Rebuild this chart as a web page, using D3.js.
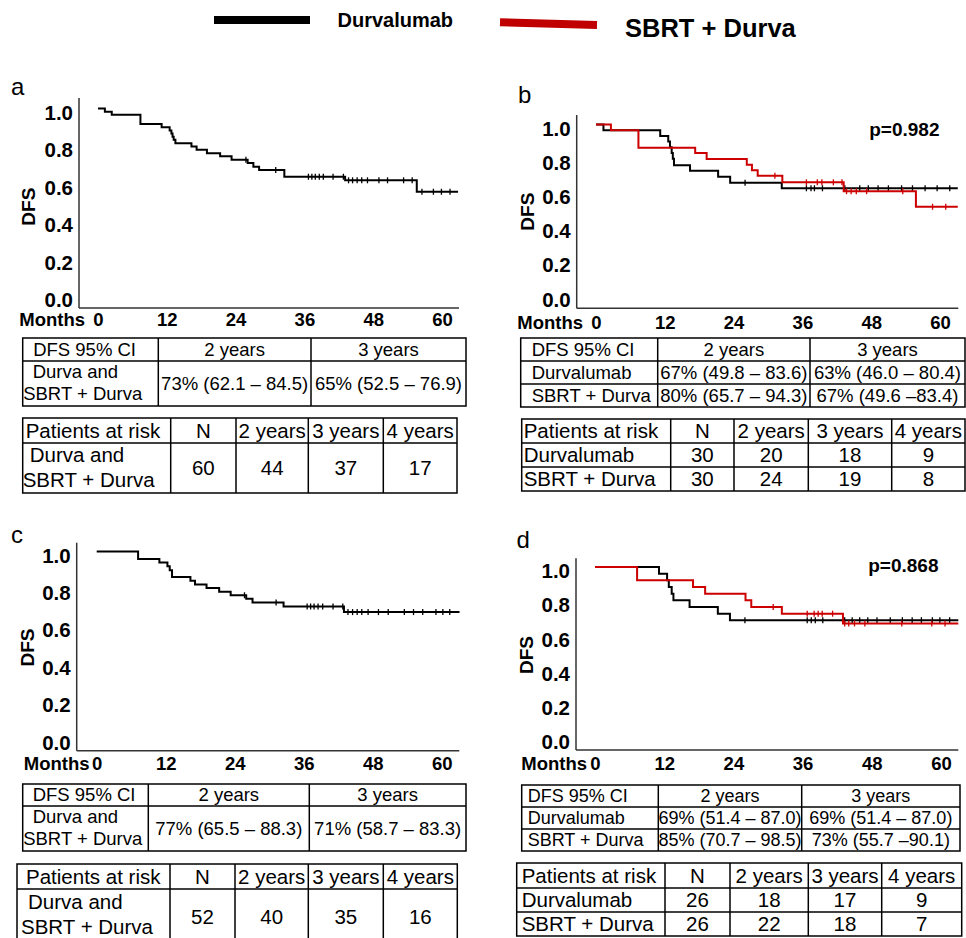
<!DOCTYPE html>
<html><head><meta charset="utf-8">
<script src="https://cdn.jsdelivr.net/npm/d3@7"></script>
<style>
body{margin:0;background:#fff}
svg{display:block}
text{font-family:"Liberation Sans",Arial,Helvetica,sans-serif;fill:#000}
</style>
</head><body>
<svg id="chart" width="966" height="938"></svg>
<script>
// ---------------- DATA ----------------
const monthTicks = [0, 12, 24, 36, 48, 60];
const dfsTicks = [0, 0.2, 0.4, 0.6, 0.8, 1.0];
const seriesNames = ["Durvalumab", "SBRT + Durva"];
const pLabels = ["p=0.982", "p=0.868"];

// Panel a: all patients (60)
const aSteps = [[0,1],[1.2,0.983],[2.4,0.967],[7.4,0.917],[11.1,0.900],[12.5,0.883],[12.8,0.867],[13.0,0.850],[13.2,0.833],[13.5,0.815],[16.3,0.797],[17.2,0.780],[19.0,0.762],[21.3,0.745],[23.3,0.727],[26.1,0.709],[27.1,0.690],[28.1,0.672],[32.5,0.636],[43.1,0.617],[55.6,0.556]];
const aCensor = [25.8,31.0,36.7,37.3,37.9,38.6,39.3,41.0,42.8,43.7,44.4,45.2,46.0,47.0,49.0,50.5,53.3,54.8,56.5,58.5,59.9,61.4];
const aEnd = 62.8;

// Panel b: Durvalumab (black) and SBRT + Durva (red), 30 each
const bBlackSteps = [[0,1],[1.3,0.967],[11.2,0.933],[12.6,0.900],[12.9,0.867],[13.2,0.833],[13.4,0.800],[13.6,0.762],[16.4,0.730],[21.3,0.694],[23.4,0.660],[32.4,0.627]];
const bBlackCensor = [26.0,36.7,37.5,38.1,39.5,43.4,46.0,47.5,49.2,51.0,53.3,55.2,57.4,59.5,61.7];
const bRedSteps = [[0,1],[2.6,0.967],[7.4,0.864],[17.3,0.833],[19.3,0.798],[26.3,0.765],[27.2,0.732],[28.2,0.700],[32.5,0.662],[43.2,0.610],[55.8,0.519]];
const bRedCensor = [31.2,36.7,38.6,39.4,41.4,42.9,43.7,44.5,45.4,47.2,53.5,58.7,61.0];
const bEnd = 63.1;

// Panel c: all patients (52)
const cSteps = [[0,1],[7.2,0.960],[10.9,0.941],[12.3,0.921],[12.7,0.900],[13.1,0.864],[16.3,0.844],[17.1,0.824],[19.1,0.805],[21.3,0.785],[23.3,0.766],[26.0,0.747],[27.1,0.727],[32.5,0.706],[43.0,0.676]];
const cCensor = [25.7,31.2,36.6,37.2,37.8,38.5,39.3,41.1,42.8,43.7,44.5,45.3,46.1,47.2,49.0,50.7,53.5,55.1,56.7,59.0,60.2,61.4];
const cEnd = 63.1;

// Panel d: Durvalumab (black) and SBRT + Durva (red), 26 each
const dBlackSteps = [[0,1],[11.1,0.961],[12.5,0.922],[12.8,0.883],[13.3,0.844],[13.6,0.805],[16.4,0.766],[21.3,0.727],[23.4,0.689]];
const dBlackCensor = [26.0,36.8,37.5,38.2,39.5,43.3,44.6,45.9,47.3,48.9,51.2,53.3,55.0,56.6,58.5,59.8,61.5];
const dRedSteps = [[0,1],[7.3,0.922],[17.0,0.883],[19.1,0.844],[26.1,0.805],[27.1,0.766],[32.4,0.727],[43.0,0.670]];
const dRedCensor = [30.9,36.8,38.0,38.7,39.4,41.2,43.3,44.0,45.0,46.8,53.2,58.4,60.7];
const dEnd = 63.0;

// Tables
const ciHeader = ["DFS 95% CI", "2 years", "3 years"];
const riskHeader = ["Patients at risk", "N", "2 years", "3 years", "4 years"];
const ciA = [[["Durva and", "SBRT + Durva"], "73% (62.1 – 84.5)", "65% (52.5 – 76.9)"]];
const riskA = [[["Durva and", "SBRT + Durva"], "60", "44", "37", "17"]];
const ciB = [["Durvalumab", "67% (49.8 – 83.6)", "63% (46.0 – 80.4)"], ["SBRT + Durva", "80% (65.7 – 94.3)", "67% (49.6 –83.4)"]];
const riskB = [["Durvalumab", "30", "20", "18", "9"], ["SBRT + Durva", "30", "24", "19", "8"]];
const ciC = [[["Durva and", "SBRT + Durva"], "77% (65.5 – 88.3)", "71% (58.7 – 83.3)"]];
const riskC = [[["Durva and", "SBRT + Durva"], "52", "40", "35", "16"]];
const ciD = [["Durvalumab", "69% (51.4 – 87.0)", "69% (51.4 – 87.0)"], ["SBRT + Durva", "85% (70.7 – 98.5)", "73% (55.7 –90.1)"]];
const riskD = [["Durvalumab", "26", "18", "17", "9"], ["SBRT + Durva", "26", "22", "18", "7"]];

// ---------------- LAYOUT ----------------
const BLACK = "#000", RED = "#cc0000";
const svg = d3.select("#chart");

const panels = [
  {letter:"a", lx:11, ly:95, xr:[98,442], yr:[296,108.5], axX:79, axB:308, axT:98, axR:459, tickY:320, monthsR:85, dfs:[28.5,206.7],
   series:[{steps:aSteps, censor:aCensor, end:aEnd, color:BLACK}]},
  {letter:"b", lx:518, ly:103, xr:[596,940], yr:[295.5,124.5], axX:576.7, axB:308.3, axT:115, axR:958.3, tickY:323, monthsR:583, dfs:[527,211.7],
   p:pLabels[0], pr:[939.5,129.3],
   series:[{steps:bBlackSteps, censor:bBlackCensor, end:bEnd, color:BLACK},{steps:bRedSteps, censor:bRedCensor, end:bEnd, color:RED}]},
  {letter:"c", lx:11, ly:543, xr:[96.7,441.7], yr:[738.5,551.5], axX:76.7, axB:750.7, axT:542.7, axR:459.3, tickY:763.3, monthsR:89.5, dfs:[27,647.5],
   series:[{steps:cSteps, censor:cCensor, end:cEnd, color:BLACK}]},
  {letter:"d", lx:516.5, ly:548, xr:[595,941], yr:[738,567], axX:576, axB:750, axT:558.3, axR:958.3, tickY:763.3, monthsR:587, dfs:[526,655],
   p:pLabels[1], pr:[938.5,565],
   series:[{steps:dBlackSteps, censor:dBlackCensor, end:dEnd, color:BLACK},{steps:dRedSteps, censor:dRedCensor, end:dEnd, color:RED}]}
];

// ---------------- LEGEND ----------------
const leg = svg.append("g");
leg.append("line").attr("x1",214).attr("x2",310).attr("y1",20).attr("y2",20).attr("stroke","#000").attr("stroke-width",8);
leg.append("text").attr("x",337.5).attr("y",26.7).attr("font-size",20).attr("font-weight","bold").text(seriesNames[0]);
leg.append("line").attr("x1",500).attr("x2",597).attr("y1",22.2).attr("y2",25).attr("stroke","#c00000").attr("stroke-width",8);
leg.append("text").attr("x",625).attr("y",36.5).attr("font-size",25.5).attr("font-weight","bold").text(seriesNames[1]);

// ---------------- PANELS ----------------
function survAt(steps, t){
  let v = steps[0][1];
  for (const s of steps){ if (s[0] <= t) v = s[1]; }
  return v;
}

panels.forEach(p => {
  const g = svg.append("g");
  const x = d3.scaleLinear().domain([0,60]).range(p.xr);
  const y = d3.scaleLinear().domain([0,1]).range(p.yr);

  // panel letter
  g.append("text").attr("x",p.lx).attr("y",p.ly).attr("font-size",24).text(p.letter);

  // axis lines
  g.append("line").attr("x1",p.axX).attr("x2",p.axX).attr("y1",p.axT).attr("y2",p.axB).attr("stroke","#333").attr("stroke-width",1.5);
  g.append("line").attr("x1",p.axX).attr("x2",p.axR).attr("y1",p.axB).attr("y2",p.axB).attr("stroke","#333").attr("stroke-width",1.5);

  // y axis labels
  const ya = g.append("g").attr("transform",`translate(${p.axX-6},0)`)
    .call(d3.axisLeft(y).tickValues(dfsTicks).tickFormat(d3.format(".1f")).tickSize(0).tickPadding(0));
  ya.select(".domain").remove();
  ya.selectAll("text").attr("font-size",20.5).attr("font-weight","bold").attr("font-family","Liberation Sans, Arial, sans-serif").attr("fill","#000").attr("dy","0.52em");

  // x axis labels
  const xa = g.append("g").attr("transform",`translate(0,${p.tickY})`)
    .call(d3.axisBottom(x).tickValues(monthTicks).tickSize(0).tickPadding(0));
  xa.select(".domain").remove();
  xa.selectAll("text").attr("font-size",18.5).attr("font-weight","bold").attr("font-family","Liberation Sans, Arial, sans-serif").attr("fill","#000").attr("dy","0.35em");
  g.append("text").attr("x",p.monthsR).attr("y",p.tickY).attr("dy","0.35em").attr("text-anchor","end").attr("font-size",18.5).attr("font-weight","bold").text("Months");

  // DFS label
  g.append("text").attr("transform",`translate(${p.dfs[0]},${p.dfs[1]}) rotate(-90)`).attr("text-anchor","middle").attr("dy","0.35em")
    .attr("font-size",19).attr("font-weight","bold").text("DFS");

  // p value
  if (p.p) g.append("text").attr("x",p.pr[0]).attr("y",p.pr[1]).attr("dy","0.35em").attr("text-anchor","end").attr("font-size",19).attr("font-weight","bold").text(p.p);

  // curves
  const line = d3.line().x(d=>x(d[0])).y(d=>y(d[1])).curve(d3.curveStepAfter);
  p.series.forEach(s => {
    const pts = s.steps.concat([[s.end, s.steps[s.steps.length-1][1]]]);
    g.append("path").attr("d", line(pts)).attr("fill","none").attr("stroke",s.color).attr("stroke-width",2);
    g.selectAll(null).data(s.censor).enter().append("line")
      .attr("x1",d=>x(d)).attr("x2",d=>x(d))
      .attr("y1",d=>y(survAt(s.steps,d))-3).attr("y2",d=>y(survAt(s.steps,d))+3)
      .attr("stroke",s.color).attr("stroke-width",1.3);
  });
});

// ---------------- TABLES ----------------
function drawTable(cfg){
  const g = svg.append("g");
  const c = cfg.cols, r = cfg.rows;
  g.append("rect").attr("x",c[0]).attr("y",r[0]).attr("width",c[c.length-1]-c[0]).attr("height",r[r.length-1]-r[0])
    .attr("fill","none").attr("stroke","#000").attr("stroke-width",1.5);
  for (let i=1;i<r.length-1;i++) g.append("line").attr("x1",c[0]).attr("x2",c[c.length-1]).attr("y1",r[i]).attr("y2",r[i]).attr("stroke","#000").attr("stroke-width",1.5);
  for (let j=1;j<c.length-1;j++) g.append("line").attr("x1",c[j]).attr("x2",c[j]).attr("y1",r[0]).attr("y2",r[r.length-1]).attr("stroke","#000").attr("stroke-width",1.5);
  const allRows = [cfg.header].concat(cfg.body);
  allRows.forEach((row, ri) => {
    const yTop = r[ri], yBot = r[ri+1], yc = (yTop+yBot)/2;
    row.forEach((cell, ci) => {
      if (ci === 0) {
        if (Array.isArray(cell)) {
          cell.forEach((t, k) => {
            g.append("text").attr("x", c[0] + cfg.multiX[k]).attr("y", cfg.multiY[k]).attr("dy","0.35em")
              .attr("font-size",cfg.fs).text(t);
          });
        } else {
          g.append("text").attr("x", c[0] + (ri===0 ? cfg.headX : cfg.labelX)).attr("y", yc).attr("dy","0.35em")
            .attr("font-size",cfg.fs).text(cell);
        }
      } else {
        g.append("text").attr("x",(c[ci]+c[ci+1])/2).attr("y",yc).attr("dy","0.35em").attr("text-anchor","middle")
          .attr("font-size",cfg.fs).text(cell);
      }
    });
  });
}

drawTable({header:ciHeader, body:ciA, cols:[22.7,158.3,311,466], rows:[338,361,406], fs:18.5, headX:10.5, labelX:2, multiX:[10,0.5], multiY:[372,394]});
drawTable({header:riskHeader, body:riskA, cols:[22.7,170.7,236,308.3,383.3,457], rows:[418,443,493], fs:20.5, headX:3, labelX:2, multiX:[7,0], multiY:[455,480]});
drawTable({header:ciHeader, body:ciB, cols:[520.7,657.7,810,965], rows:[338,361,384,407], fs:18.5, headX:11, labelX:11, multiX:[0,0], multiY:[0,0]});
drawTable({header:riskHeader, body:riskB, cols:[521.7,670.7,734,808.3,891.7,965], rows:[419,443,467,491], fs:20.5, headX:2, labelX:2, multiX:[0,0], multiY:[0,0]});
drawTable({header:ciHeader, body:ciC, cols:[22.7,148.3,309.3,466], rows:[784,806,851], fs:18.5, headX:10, labelX:2, multiX:[10,0.5], multiY:[817,839]});
drawTable({header:riskHeader, body:riskC, cols:[17,170,235,308.3,383.3,457.3], rows:[864,889,945], fs:20.5, headX:9, labelX:2, multiX:[11,4], multiY:[902,927]});
drawTable({header:ciHeader, body:ciD, cols:[521.7,658.3,801.7,960], rows:[785,807,829,851], fs:18, headX:6, labelX:6, multiX:[0,0], multiY:[0,0]});
drawTable({header:riskHeader, body:riskD, cols:[516.7,665,730,808.3,881.7,961.7], rows:[863,888,912,936], fs:20.5, headX:5, labelX:5, multiX:[0,0], multiY:[0,0]});
</script>
</body></html>
